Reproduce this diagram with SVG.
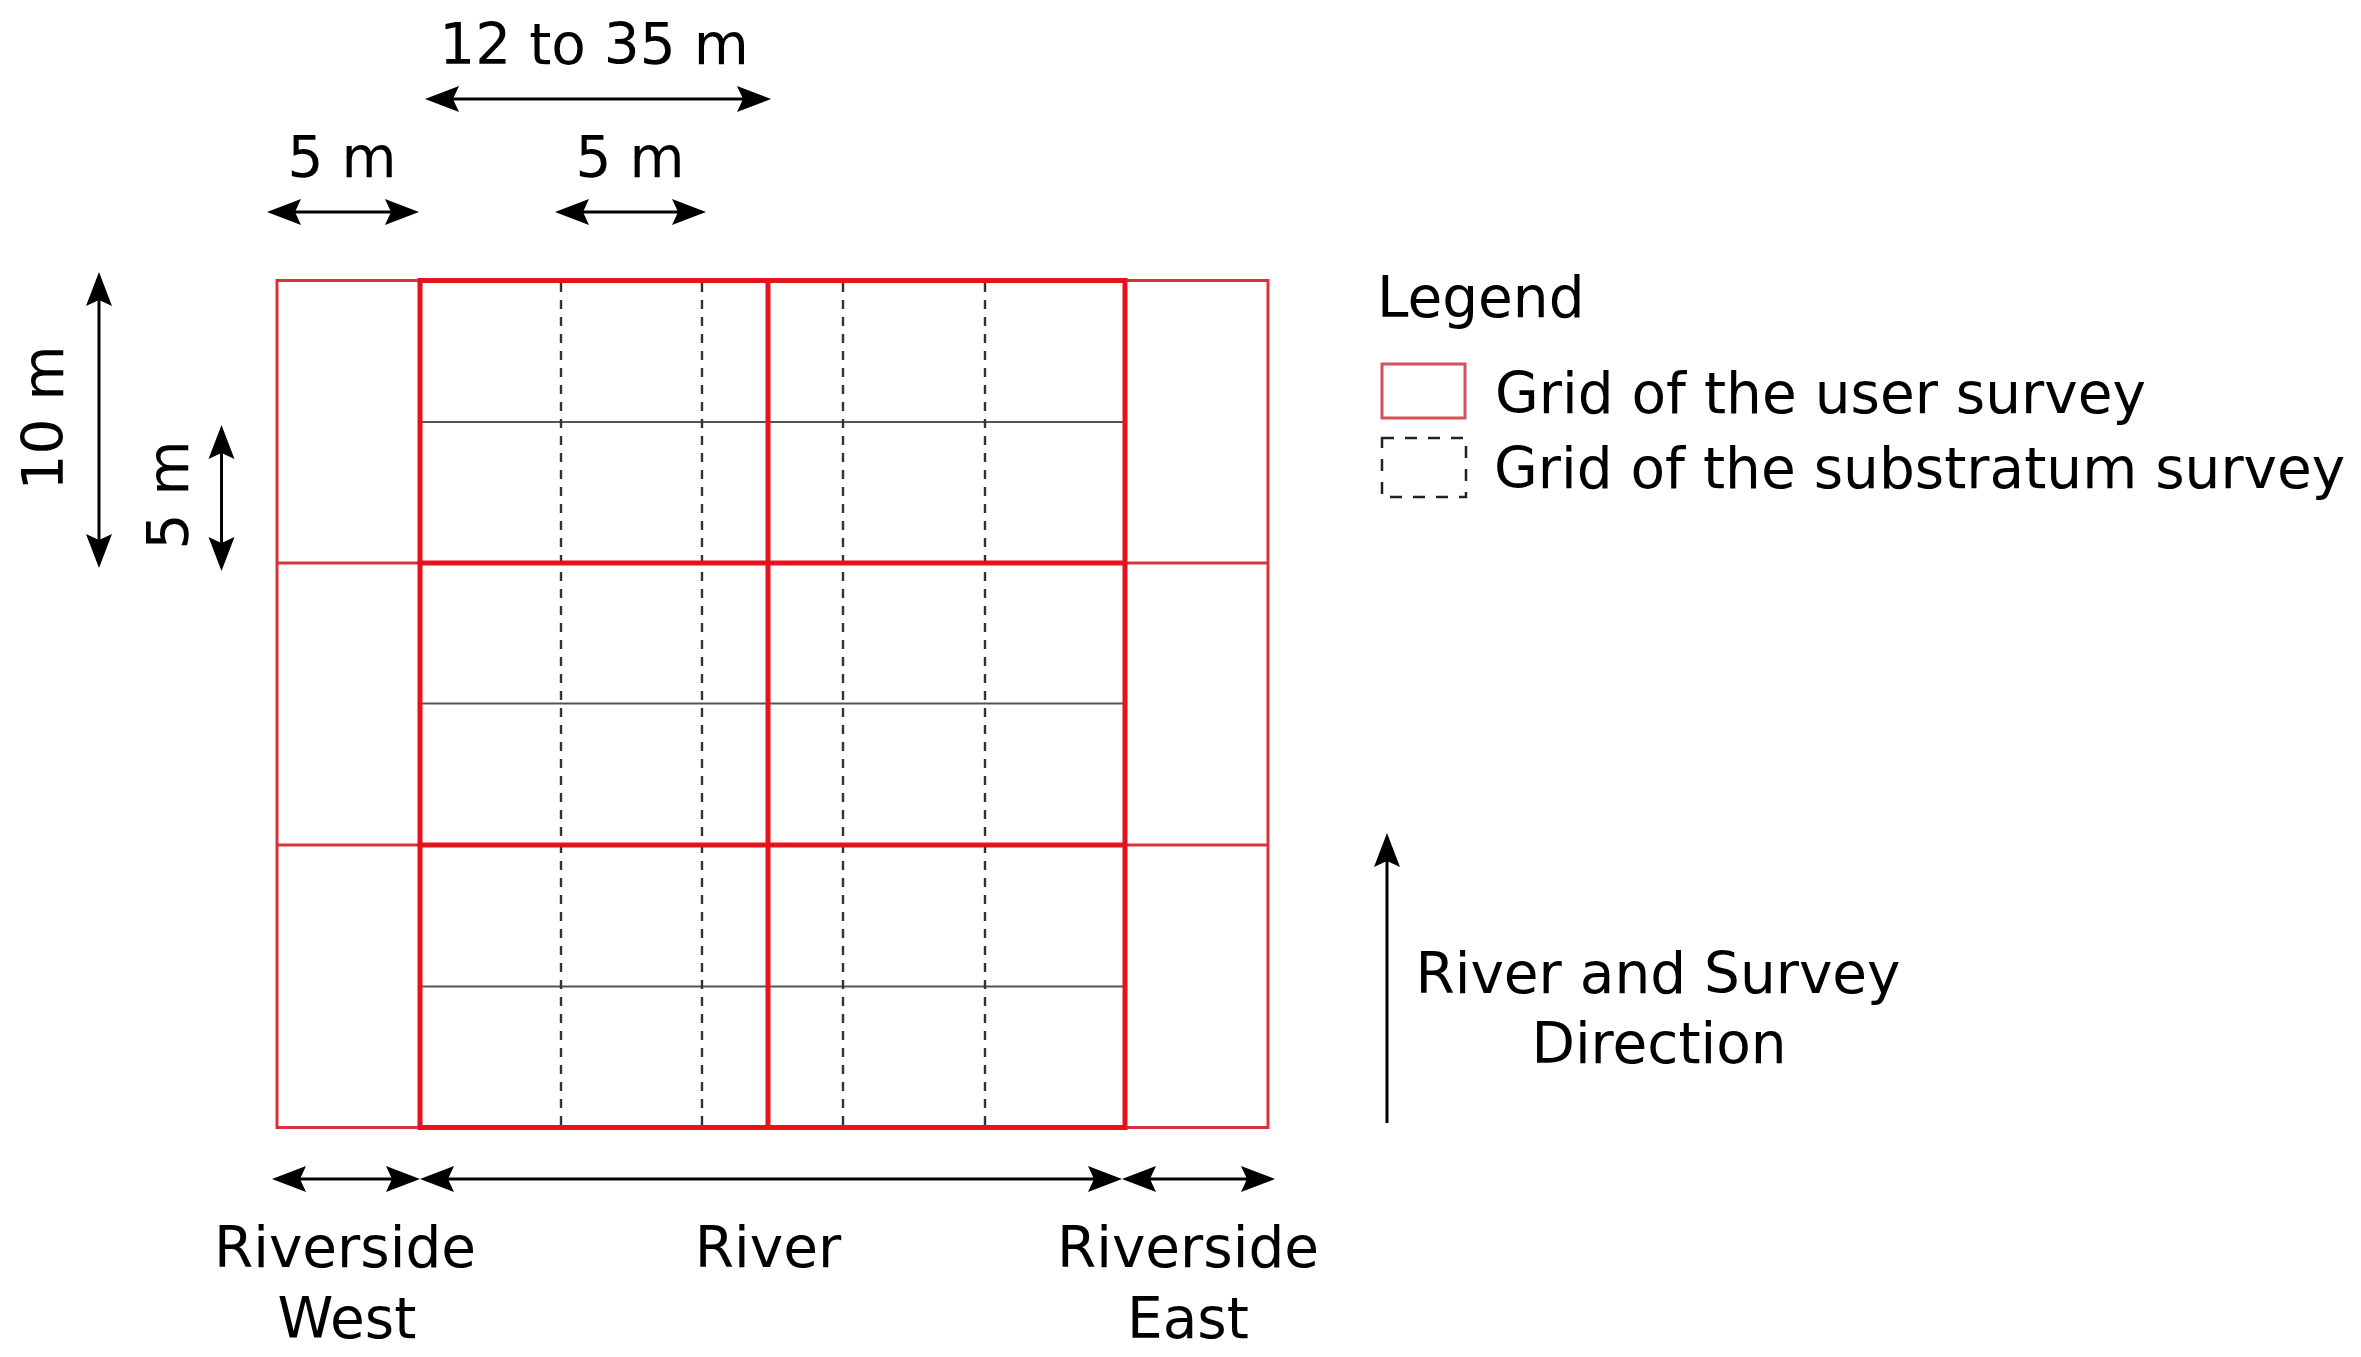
<svg xmlns="http://www.w3.org/2000/svg" width="2361" height="1357" viewBox="0 0 2361 1357">
<defs>
<style>
text{font-family:"DejaVu Sans","Liberation Sans",sans-serif;font-size:56.5px;fill:#000}
.mid{text-anchor:middle}
.thin{stroke:#d8323e;stroke-width:3;fill:none}
.thick{stroke:#e5131d;stroke-width:5;fill:none}
.gray{stroke:#555;stroke-width:2.2;fill:none}
.dash{stroke:#333;stroke-width:2.4;stroke-dasharray:9 8;fill:none}
.arr{stroke:#000;stroke-width:3;fill:none;marker-end:url(#ah);marker-start:url(#ah)}
</style>
<marker id="ah" markerUnits="userSpaceOnUse" viewBox="0 -14 36 28" markerWidth="36" markerHeight="28" refX="6" refY="0" orient="auto-start-reverse">
<path d="M0,-13 L34,0 L0,13 L6,0 Z" fill="#000"/>
</marker>
</defs>
<rect width="2361" height="1357" fill="#fff"/>

<g id="grid">
<rect class="thin" x="277" y="280.5" width="991" height="847"/>
<line class="thin" x1="277" y1="563" x2="1268" y2="563"/>
<line class="thin" x1="277" y1="845" x2="1268" y2="845"/>
<line class="gray" x1="420" y1="422" x2="1125" y2="422"/>
<line class="gray" x1="420" y1="703.5" x2="1125" y2="703.5"/>
<line class="gray" x1="420" y1="986.5" x2="1125" y2="986.5"/>
<line class="dash" x1="561" y1="283" x2="561" y2="1125"/>
<line class="dash" x1="702" y1="283" x2="702" y2="1125"/>
<line class="dash" x1="843" y1="283" x2="843" y2="1125"/>
<line class="dash" x1="985" y1="283" x2="985" y2="1125"/>
<rect class="thick" x="420" y="280.5" width="705" height="847"/>
<line class="thick" x1="768" y1="280.5" x2="768" y2="1127.5"/>
<line class="thick" x1="420" y1="563" x2="1125" y2="563"/>
<line class="thick" x1="420" y1="845" x2="1125" y2="845"/>
</g>

<g id="connectors">
<line class="arr" x1="453" y1="99" x2="743" y2="99"/>
<line class="arr" x1="295" y1="212" x2="391" y2="212"/>
<line class="arr" x1="583" y1="212" x2="678" y2="212"/>
<line class="arr" x1="99" y1="300" x2="99" y2="540"/>
<line class="arr" x1="221.5" y1="453" x2="221.5" y2="543"/>
<line class="arr" x1="300" y1="1179" x2="392" y2="1179"/>
<line class="arr" x1="448" y1="1179" x2="1094" y2="1179"/>
<line class="arr" x1="1150" y1="1179" x2="1247" y2="1179"/>
<line x1="1387" y1="1123" x2="1387" y2="861" stroke="#000" stroke-width="3" marker-end="url(#ah)"/>
</g>

<g id="dimension-labels">
<text class="mid" x="594" y="64">12 to 35 m</text>
<text class="mid" x="342" y="177">5 m</text>
<text class="mid" x="630" y="177">5 m</text>
<text class="mid" transform="translate(63,418) rotate(-90)">10 m</text>
<text class="mid" transform="translate(188,495) rotate(-90)">5 m</text>
</g>

<g id="legend">
<text x="1377" y="317">Legend</text>
<rect x="1382" y="364" width="83" height="54" fill="none" stroke="#d4505a" stroke-width="3"/>
<text x="1495" y="413">Grid of the user survey</text>
<rect x="1382" y="438" width="84" height="59" fill="none" stroke="#222" stroke-width="2.5" stroke-dasharray="12 11"/>
<text x="1494" y="488">Grid of the substratum survey</text>
</g>

<g id="direction">
<text class="mid" x="1658" y="993">River and Survey</text>
<text class="mid" x="1659" y="1063">Direction</text>
</g>

<g id="zone-labels">
<text class="mid" x="345" y="1267">Riverside</text>
<text class="mid" x="347" y="1338">West</text>
<text class="mid" x="768" y="1267">River</text>
<text class="mid" x="1188" y="1267">Riverside</text>
<text class="mid" x="1188" y="1338">East</text>
</g>
</svg>
